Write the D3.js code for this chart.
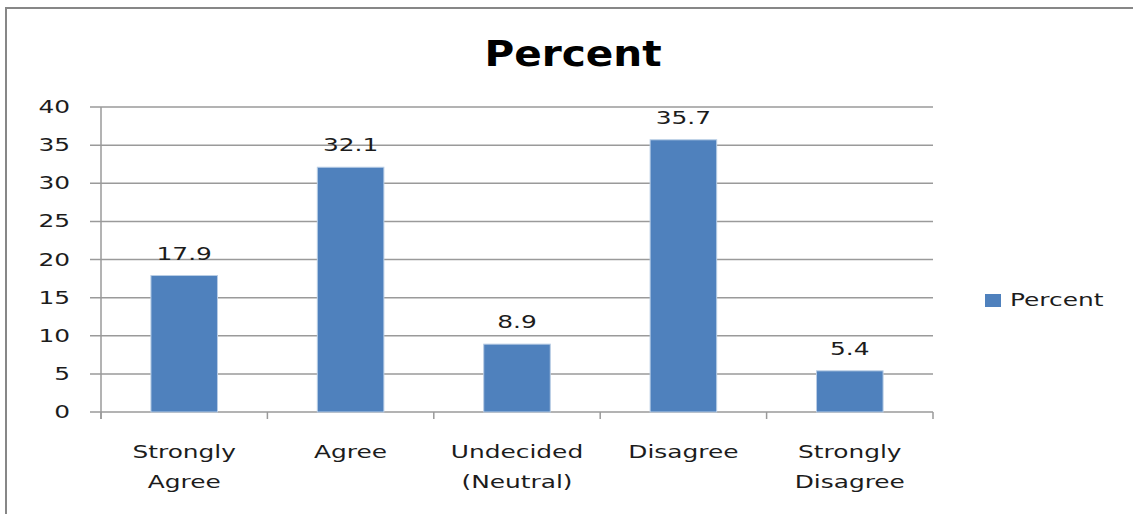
<!DOCTYPE html>
<html>
<head>
<meta charset="utf-8">
<script src="https://cdn.jsdelivr.net/npm/d3@7"></script>
<style>
  html, body { margin: 0; padding: 0; background: #fff; overflow: hidden; }
  svg { display: block; }
</style>
</head>
<body>
<script>
// Survey response shares (percent)
const categories = [["Strongly", "Agree"], ["Agree"], ["Undecided", "(Neutral)"], ["Disagree"], ["Strongly", "Disagree"]];
const values = [17.9, 32.1, 8.9, 35.7, 5.4];
const yTicks = [0, 5, 10, 15, 20, 25, 30, 35, 40];
const seriesName = "Percent";
const chartTitle = "Percent";

const W = 1133, H = 514;
const plot = { left: 101, right: 933, top: 107, bottom: 412 };
const barColor = "#4f81bd";
const gridColor = "#9a9a9a";
const textColor = "#1c1c1c";
const fontFamily = "'DejaVu Sans', Verdana, sans-serif";
const stretch = 1.38; // horizontal widening of the small text

const svg = d3.select("body").append("svg")
  .attr("width", W).attr("height", H);

svg.append("rect").attr("width", W).attr("height", H).attr("fill", "#fff");

// chart frame (top and left edges visible)
svg.append("path")
  .attr("d", `M6,${H} V8 H${W}`)
  .attr("fill", "none").attr("stroke", "#878787").attr("stroke-width", 2);

const keys = categories.map(c => c.join(" "));
const x = d3.scaleBand().domain(keys)
  .range([plot.left, plot.right])
  .paddingInner(0.6).paddingOuter(0.3);
const y = d3.scaleLinear().domain([0, 40]).range([plot.bottom, plot.top]);

function label(g, tx, ty, str, size, anchor, sx, weight) {
  return g.append("text")
    .attr("transform", `translate(${tx},${ty}) scale(${sx},1)`)
    .attr("text-anchor", anchor)
    .attr("font-family", fontFamily)
    .attr("font-size", size)
    .attr("font-weight", weight || "normal")
    .attr("fill", textColor)
    .text(str);
}

// title
label(svg, 573, 66, chartTitle, 35, "middle", 1.16, "bold").attr("fill", "#000");

// horizontal gridlines (with tick stubs left of the axis)
svg.append("g").selectAll("line").data(yTicks).join("line")
  .attr("x1", plot.left - 11).attr("x2", plot.right)
  .attr("y1", d => y(d)).attr("y2", d => y(d))
  .attr("stroke", gridColor).attr("stroke-width", 1.5);

// y axis labels
const yAxis = svg.append("g")
  .attr("transform", `translate(${plot.left},0)`)
  .call(d3.axisLeft(y).tickValues(yTicks).tickSize(0).tickPadding(0));
yAxis.select(".domain").remove();
yAxis.selectAll(".tick").attr("transform", null);
yAxis.selectAll("text")
  .attr("x", null).attr("dy", null)
  .attr("transform", d => `translate(-31,${y(d) + 6}) scale(${stretch},1)`)
  .attr("text-anchor", "end")
  .attr("font-family", fontFamily)
  .attr("font-size", 18)
  .attr("fill", textColor);

svg.append("line")
  .attr("x1", plot.left).attr("x2", plot.left)
  .attr("y1", plot.top).attr("y2", plot.bottom + 7)
  .attr("stroke", gridColor).attr("stroke-width", 1.5);

// category boundary ticks
const step = x.step();
const bounds = keys.map(k => x(k) - step * 0.3).concat([plot.right]);
svg.append("g").selectAll("line").data(bounds).join("line")
  .attr("x1", d => d).attr("x2", d => d)
  .attr("y1", plot.bottom).attr("y2", plot.bottom + 7)
  .attr("stroke", gridColor).attr("stroke-width", 1.5);

// bars
svg.append("g").selectAll("rect").data(values).join("rect")
  .attr("x", (d, i) => x(keys[i]))
  .attr("width", x.bandwidth())
  .attr("y", d => y(d))
  .attr("height", d => y(0) - y(d))
  .attr("fill", barColor)
  .attr("stroke", "#b9cde5").attr("stroke-width", 1);

// value labels
const vl = svg.append("g");
values.forEach((v, i) => {
  label(vl, x(keys[i]) + x.bandwidth() / 2, y(v) - 16, v.toFixed(1), 18, "middle", stretch);
});

// category labels
const cl = svg.append("g");
categories.forEach((lines, i) => {
  const cx = x(keys[i]) + x.bandwidth() / 2;
  lines.forEach((ln, j) => {
    label(cl, cx, 458 + j * 30, ln, 18, "middle", stretch);
  });
});

// legend
svg.append("rect").attr("x", 985).attr("y", 294).attr("width", 16).attr("height", 13)
  .attr("fill", barColor);
label(svg, 1010, 306, seriesName, 18, "start", stretch);
</script>
</body>
</html>
